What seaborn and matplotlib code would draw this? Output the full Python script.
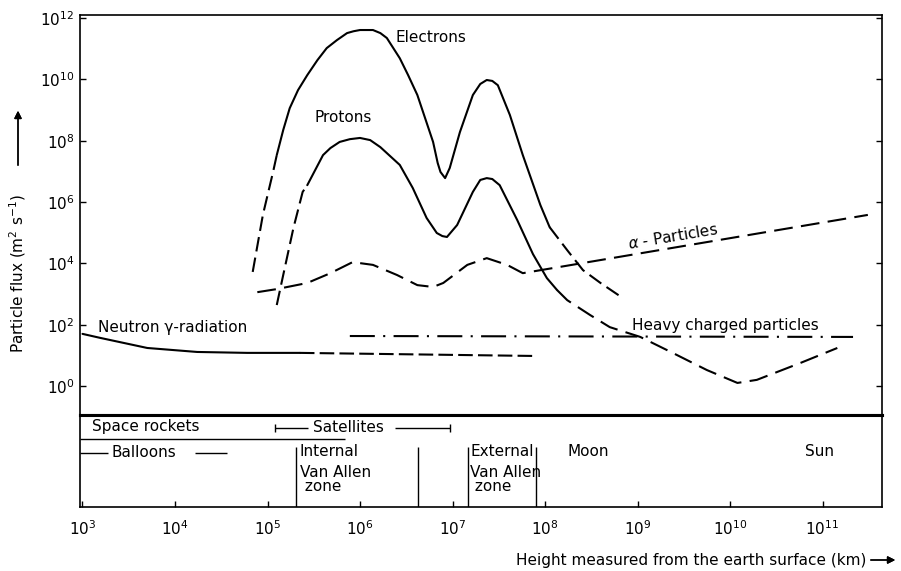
import numpy as np
import seaborn as sns
import matplotlib.pyplot as plt
from matplotlib.ticker import FixedLocator, LogFormatterMathtext, NullLocator

# values, given as log10(height in km) and log10(flux)
electron_rise_x = [4.84, 4.95, 5.06, 5.10]
electron_rise_y = [3.72, 5.58, 6.98, 7.53]
electron_x = [5.10, 5.17, 5.24, 5.33, 5.43, 5.54, 5.64, 5.75, 5.86, 5.93, 6.00, 6.14, 6.22,
              6.29, 6.43, 6.52, 6.62, 6.79, 6.84, 6.87, 6.92, 6.97, 7.08, 7.22, 7.30,
              7.37, 7.43, 7.49, 7.62, 7.76, 7.95, 8.05]
electron_y = [7.53, 8.35, 9.06, 9.65, 10.14, 10.63, 11.02, 11.28, 11.51, 11.57, 11.61, 11.61,
              11.51, 11.35, 10.69, 10.14, 9.49, 7.96, 7.27, 6.98, 6.78, 7.11, 8.28, 9.49,
              9.85, 9.98, 9.95, 9.81, 8.84, 7.53, 5.90, 5.18]
electron_tail_x = [8.05, 8.24, 8.41, 8.60, 8.84]
electron_tail_y = [5.18, 4.43, 3.78, 3.36, 2.87]

proton_rise_x = [5.10, 5.17, 5.28, 5.38, 5.43]
proton_rise_y = [2.64, 3.62, 5.15, 6.33, 6.55]
proton_x = [5.43, 5.60, 5.68, 5.78, 5.89, 6.00, 6.11, 6.22, 6.43, 6.57, 6.72, 6.83, 6.89,
            6.94, 7.05, 7.22, 7.30, 7.37, 7.43, 7.51, 7.70, 7.87, 8.02, 8.13]
proton_y = [6.55, 7.53, 7.76, 7.96, 8.05, 8.09, 8.02, 7.79, 7.21, 6.46, 5.48, 4.99, 4.89,
            4.86, 5.25, 6.33, 6.72, 6.78, 6.75, 6.55, 5.41, 4.30, 3.52, 3.13]
proton_tail_x = [8.13, 8.24, 8.49, 8.70, 9.03, 9.38, 9.75, 10.08, 10.29, 10.76, 11.16]
proton_tail_y = [3.13, 2.80, 2.31, 1.92, 1.60, 1.08, 0.52, 0.10, 0.20, 0.75, 1.24]

alpha_x = [4.89, 5.10, 5.43, 5.68, 5.92, 6.14, 6.40, 6.62, 6.79, 6.90, 7.16, 7.37,
           7.59, 7.76, 11.49]
alpha_y = [3.06, 3.16, 3.36, 3.68, 4.04, 3.95, 3.62, 3.29, 3.23, 3.36, 3.95, 4.17,
           3.95, 3.68, 5.58]

neutron_x = [3.00, 3.19, 3.70, 4.24, 4.78, 5.35]
neutron_y = [1.70, 1.57, 1.24, 1.11, 1.08, 1.08]
neutron_tail_x = [5.35, 7.87]
neutron_tail_y = [1.08, 0.98]

heavy_x = [5.89, 11.33]
heavy_y = [1.63, 1.60]

x_ticks = [1e3, 1e4, 1e5, 1e6, 1e7, 1e8, 1e9, 1e10, 1e11]
y_ticks = [1e0, 1e2, 1e4, 1e6, 1e8, 1e10, 1e12]

# zone boundaries in the lower band (log10 km)
zone_edges = [5.31, 6.63, 7.17, 7.90]

sns.set_style("ticks")
plt.rcParams['font.family'] = ['DejaVu Sans']
plt.rcParams['font.size'] = 11
for key in ['text.color', 'axes.labelcolor', 'xtick.color', 'ytick.color', 'axes.edgecolor']:
    plt.rcParams[key] = 'black'

fig = plt.figure(figsize=(9.01, 5.71), dpi=100)
ax = fig.add_axes([80 / 901, 1 - 415 / 571, 802 / 901, 400 / 571])
ax2 = fig.add_axes([80 / 901, 1 - 507 / 571, 802 / 901, 92 / 571])


def draw(lx, ly, style):
    sns.lineplot(x=10 ** np.asarray(lx), y=10 ** np.asarray(ly), linestyle=style,
                 color='black', lw=1.5, estimator=None, sort=False, ax=ax,
                 solid_joinstyle='round', dash_joinstyle='round')


draw(electron_rise_x, electron_rise_y, (0, (7, 3)))
draw(electron_x, electron_y, '-')
draw(electron_tail_x, electron_tail_y, (0, (7, 3)))
draw(proton_rise_x, proton_rise_y, (0, (7, 3)))
draw(proton_x, proton_y, '-')
draw(proton_tail_x, proton_tail_y, (0, (9, 4)))
draw(alpha_x, alpha_y, (0, (9, 4)))
draw(neutron_x, neutron_y, '-')
draw(neutron_tail_x, neutron_tail_y, (0, (7, 2.5)))
draw(heavy_x, heavy_y, (0, (12, 4, 1, 4)))

xlim = (10 ** 2.973, 10 ** 11.643)
ax.set_xscale('log')
ax.set_yscale('log')
ax.set_xlim(xlim)
ax.set_ylim(10 ** -0.946, 10 ** 12.10)
ax.yaxis.set_major_locator(FixedLocator(y_ticks))
ax.yaxis.set_major_formatter(LogFormatterMathtext())
ax.yaxis.set_minor_locator(NullLocator())
ax.xaxis.set_major_locator(NullLocator())
ax.xaxis.set_minor_locator(NullLocator())
ax.tick_params(axis='y', direction='in', length=4, width=1, left=True, right=True,
               pad=4, labelsize=11)
ax.set_xlabel('')
ax.set_ylabel('')
for s in ax.spines.values():
    s.set_color('black')
    s.set_linewidth(1.2)
ax.spines['bottom'].set_linewidth(2.2)

# curve labels
ax.text(10 ** 6.38, 10 ** 11.38, 'Electrons', va='center', ha='left')
ax.text(10 ** 5.51, 10 ** 8.77, 'Protons', va='center', ha='left')
ax.text(10 ** 9.38, 10 ** 4.86, r'$\alpha$ - Particles', va='center', ha='center',
        rotation=9.5, rotation_mode='anchor')
ax.text(10 ** 8.94, 10 ** 1.96, 'Heavy charged particles', va='center', ha='left')
ax.text(10 ** 3.17, 10 ** 1.92, 'Neutron γ-radiation', va='center', ha='left')

# lower band: vehicles and zones
ax2.set_xscale('log')
ax2.set_xlim(xlim)
ax2.set_ylim(0, 1)
ax2.xaxis.set_major_locator(FixedLocator(x_ticks))
ax2.xaxis.set_major_formatter(LogFormatterMathtext())
ax2.xaxis.set_minor_locator(NullLocator())
ax2.yaxis.set_major_locator(NullLocator())
ax2.tick_params(axis='x', direction='in', length=4, width=1, pad=9, labelsize=11)
for s in ax2.spines.values():
    s.set_color('black')
    s.set_linewidth(1.2)
ax2.spines['top'].set_linewidth(2.2)

ax2.text(10 ** 3.10, 0.87, 'Space rockets', va='center', ha='left')
ax2.hlines(0.739, xlim[0], 10 ** 5.84, color='black', lw=1)
ax2.hlines(0.859, 10 ** 5.08, 10 ** 5.44, color='black', lw=1)
ax2.hlines(0.859, 10 ** 6.38, 10 ** 6.97, color='black', lw=1)
ax2.vlines([10 ** 5.08, 10 ** 6.97], 0.82, 0.90, color='black', lw=1)
ax2.text(10 ** 5.87, 0.86, 'Satellites', va='center', ha='center')
ax2.hlines(0.587, xlim[0], 10 ** 3.28, color='black', lw=1)
ax2.text(10 ** 3.31, 0.59, 'Balloons', va='center', ha='left')
ax2.hlines(0.587, 10 ** 4.22, 10 ** 4.56, color='black', lw=1)
ax2.vlines([10 ** v for v in zone_edges], 0, 0.652, color='black', lw=1)
for x0, lines in [(5.35, ['Internal', 'Van Allen', ' zone']),
                  (7.19, ['External', 'Van Allen', ' zone'])]:
    for yy, t in zip([0.60, 0.38, 0.22], lines):
        ax2.text(10 ** x0, yy, t, va='center', ha='left')
ax2.text(10 ** 8.24, 0.60, 'Moon', va='center', ha='left')
ax2.text(10 ** 10.81, 0.60, 'Sun', va='center', ha='left')

# axis titles with arrows
fig.text(18 / 901, 1 - 274 / 571, r'Particle flux (m$^2$ s$^{-1}$)', rotation=90,
         va='center', ha='center', fontsize=11)
fig.add_artist(plt.annotate('', xy=(18 / 901, 1 - 108 / 571), xycoords='figure fraction',
                            xytext=(18 / 901, 1 - 168 / 571), textcoords='figure fraction',
                            arrowprops=dict(arrowstyle='-|>', color='black', lw=1)))
fig.text(866 / 901, 1 - 560 / 571, 'Height measured from the earth surface (km)',
         va='center', ha='right', fontsize=11)
fig.add_artist(plt.annotate('', xy=(898 / 901, 1 - 560 / 571), xycoords='figure fraction',
                            xytext=(868 / 901, 1 - 560 / 571), textcoords='figure fraction',
                            arrowprops=dict(arrowstyle='-|>', color='black', lw=1)))

fig.savefig('out.png', dpi=100)
